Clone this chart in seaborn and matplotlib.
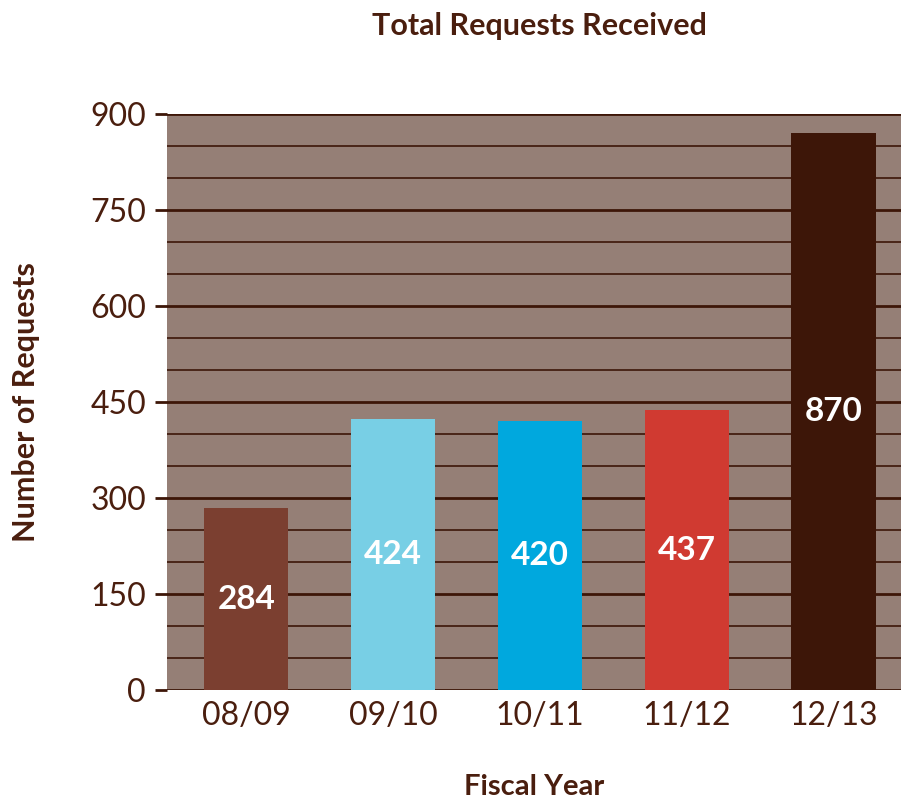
import matplotlib
matplotlib.use("Agg")
import matplotlib.pyplot as plt
import seaborn as sns
import pandas as pd
import numpy as np

years = ["08/09", "09/10", "10/11", "11/12", "12/13"]
requests = [284, 424, 420, 437, 870]
bar_colors = ["#7B3F30", "#78CFE5", "#00A8DE", "#D03A31", "#3D1608"]
major_ticks = [0, 150, 300, 450, 600, 750, 900]

sns.set_theme(style="white")
plt.rcParams["font.family"] = ["Lato", "DejaVu Sans"]

text_color = "#4A1E0E"
grid_color = "#3D1608"
bg_color = "#957F76"

df = pd.DataFrame({"year": years, "requests": requests})

fig = plt.figure(figsize=(9.01, 8.02), dpi=100)
ax = fig.add_axes([0.1853, 0.1397, 0.8147, 0.7182])
ax.set_facecolor(bg_color)

sns.barplot(data=df, x="year", y="requests", hue="year", palette=bar_colors,
            legend=False, width=0.573, saturation=1, ax=ax, zorder=3,
            linewidth=0, edgecolor="none")

ax.set_ylim(0, 900)
ax.set_xlim(-0.54, 4.46)
ax.set_yticks(major_ticks)
ax.set_yticks(np.arange(0, 901, 50), minor=True)
ax.grid(axis="y", which="major", color=grid_color, linewidth=2.0, zorder=1)
ax.grid(axis="y", which="minor", color=grid_color, linewidth=1.2, zorder=1)
ax.set_axisbelow(True)

for s in ["left", "right", "top", "bottom"]:
    ax.spines[s].set_visible(False)

ax.tick_params(axis="y", which="major", length=9, width=2, color=grid_color,
               labelsize=23, labelcolor=text_color, pad=6, left=True)
ax.tick_params(axis="y", which="minor", length=0)
ax.tick_params(axis="x", length=0, labelsize=23, labelcolor=text_color, pad=8)

for container in ax.containers:
    ax.bar_label(container, label_type="center", color="white", fontsize=24,
                 fontweight="bold")

ax.set_xlabel("Fiscal Year", fontsize=21, fontweight="bold", color=text_color, labelpad=31)
ax.set_ylabel("Number of Requests", fontsize=22, fontweight="bold", color=text_color, labelpad=36)
fig.text(0.599, 0.967, "Total Requests Received", ha="center", va="center",
         fontsize=22, fontweight="bold", color=text_color)

fig.savefig("out.png", dpi=100)
